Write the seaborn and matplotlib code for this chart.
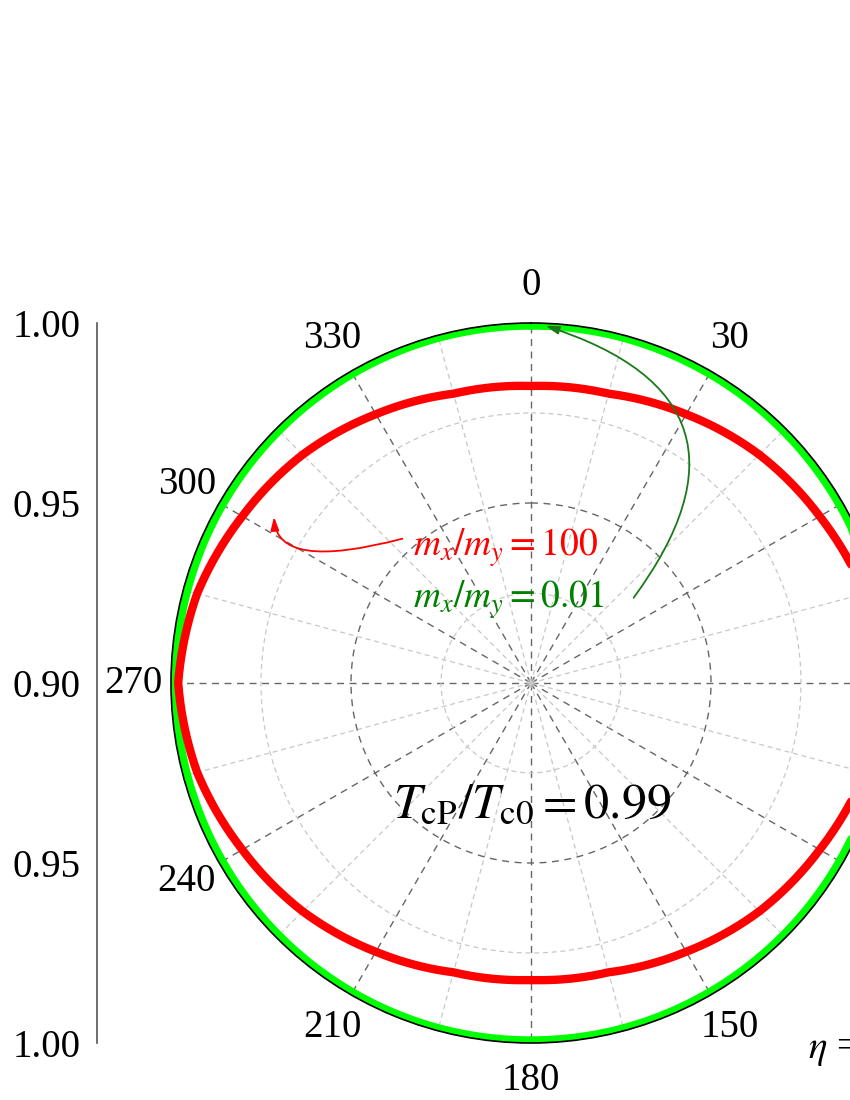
import numpy as np
import pandas as pd
import matplotlib
matplotlib.use('Agg')
import matplotlib.pyplot as plt
import seaborn as sns

# angle eta in degrees (clockwise from top) and T_c ratio on the radial axis
eta_deg = [0, 15, 30, 45, 60, 75, 90, 105, 120, 135, 150, 165, 180,
           195, 210, 225, 240, 255, 270, 285, 300, 315, 330, 345, 360]
r_mass100 = [0.9825, 0.9832, 0.9862, 0.9897, 0.9926, 0.9960, 0.9980, 0.9960, 0.9926,
             0.9897, 0.9862, 0.9832, 0.9825, 0.9832, 0.9862, 0.9897, 0.9926, 0.9960,
             0.9980, 0.9960, 0.9926, 0.9897, 0.9862, 0.9832, 0.9825]
r_mass001 = [0.9992, 0.9992, 0.9991, 0.9990, 0.9989, 0.9988, 0.9988, 0.9988, 0.9989,
             0.9990, 0.9991, 0.9992, 0.9992, 0.9992, 0.9991, 0.9990, 0.9989, 0.9988,
             0.9988, 0.9988, 0.9989, 0.9990, 0.9991, 0.9992, 0.9992]

theta_ticks = [0, 30, 60, 90, 120, 150, 180, 210, 240, 270, 300, 330]
# 60, 90 and 120 sit beyond the right edge of the picture
theta_labels = ['0', '30', '', '', '', '150', '180', '210', '240', '270', '300', '330']
theta_minor = [15, 45, 75, 105, 135, 165, 195, 225, 255, 285, 315, 345]
r_major = [0.95]
r_minor = [0.925, 0.975]
left_pos = [-0.10, -0.05, 0.0, 0.05, 0.10]
left_labels = ['1.00', '0.95', '0.90', '0.95', '1.00']
left_minor = [-0.075, -0.025, 0.025, 0.075]

sns.set_style('white')
plt.rcParams['font.family'] = ['Liberation Serif', 'DejaVu Serif']
plt.rcParams['mathtext.fontset'] = 'stix'
plt.rcParams['text.color'] = 'black'
plt.rcParams['xtick.color'] = 'black'
plt.rcParams['ytick.color'] = 'black'

df = pd.DataFrame({'theta': np.deg2rad(eta_deg), 'r100': r_mass100, 'r001': r_mass001})

fig = plt.figure(figsize=(8.5, 11), dpi=100)
ax = fig.add_axes([171/850, 57/1100, 720/850, 720/1100], projection='polar')
ax.set_theta_zero_location('N')
ax.set_theta_direction(-1)

sns.lineplot(data=df, x='theta', y='r001', ax=ax, sort=False, color='#00ff00', lw=5.5)
sns.lineplot(data=df, x='theta', y='r100', ax=ax, sort=False, color='#ff0000', lw=6)
# let the polar transform draw curved segments between the read points
for line in ax.get_lines():
    line.get_path()._interpolation_steps = 40
    line.recache_always()
ax.set_rlim(0.9, 1.0)
ax.set_xlabel('')
ax.set_ylabel('')

ax.set_xticks(np.deg2rad(theta_ticks))
ax.set_xticklabels(theta_labels, fontsize=28)
ax.set_xticks(np.deg2rad(theta_minor), minor=True)
ax.set_yticks(r_major)
ax.set_yticks(r_minor, minor=True)
ax.set_yticklabels([])
ax.grid(which='major', color='#666666', ls=(0, (5, 4)), lw=1)
ax.grid(which='minor', color='#c8c8c8', ls=(0, (4, 3)), lw=0.9)
ax.tick_params(axis='x', which='major', direction='in', length=9, width=1, color='black', pad=20)
ax.tick_params(axis='x', which='minor', direction='in', length=5, width=0.8, color='#888888')
ax.tick_params(axis='y', which='both', length=0)
ax.spines['polar'].set_color('black')
ax.spines['polar'].set_linewidth(1.2)

# linear radial scale at the left
ax2 = fig.add_axes([97/850, 57/1100, 0.0001, 720/1100])
ax2.set_ylim(-0.1, 0.1)
ax2.set_yticks(left_pos)
ax2.set_yticklabels(left_labels, fontsize=28)
ax2.set_yticks(left_minor, minor=True)
ax2.set_xticks([])
for s in ['top', 'right', 'bottom']:
    ax2.spines[s].set_visible(False)
ax2.spines['left'].set_color('#555555')
ax2.spines['left'].set_linewidth(1.2)
ax2.tick_params(axis='y', which='major', direction='out', length=8, width=1.2, color='#555555', pad=4)
ax2.tick_params(axis='y', which='minor', direction='out', length=4, width=1.2, color='#555555')
ax2.patch.set_alpha(0)

# annotations
fig.text(413/850, 1 - 548/1100, r'$m_x/m_y = 100$', color='#ff0000', fontsize=27,
         ha='left', va='center')
fig.text(413/850, 1 - 600/1100, r'$m_x/m_y = 0.01$', color='#008000', fontsize=27,
         ha='left', va='center')
fig.text(532/850, 1 - 805/1100, r'$T_{\rm cP}/T_{\rm c0} = 0.99$', color='black',
         fontsize=36, ha='center', va='center')
fig.text(808/850, 1 - 1050/1100, r'$\eta$ =', color='black', fontsize=28,
         ha='left', va='center')

ax.annotate('', xy=(274, 1100 - 514), xycoords='figure pixels',
            xytext=(405, 1100 - 538), textcoords='figure pixels',
            arrowprops=dict(arrowstyle='-|>,head_length=0.8,head_width=0.25', color='#ff0000',
                            lw=1.3, connectionstyle='angle3,angleA=15,angleB=90'))
ax.annotate('', xy=(543, 1100 - 325), xycoords='figure pixels',
            xytext=(632, 1100 - 600), textcoords='figure pixels',
            arrowprops=dict(arrowstyle='-|>,head_length=0.8,head_width=0.25', color='#1a7a1a',
                            lw=1.3, connectionstyle='arc3,rad=0.7'))

fig.savefig('out.png', dpi=100)
